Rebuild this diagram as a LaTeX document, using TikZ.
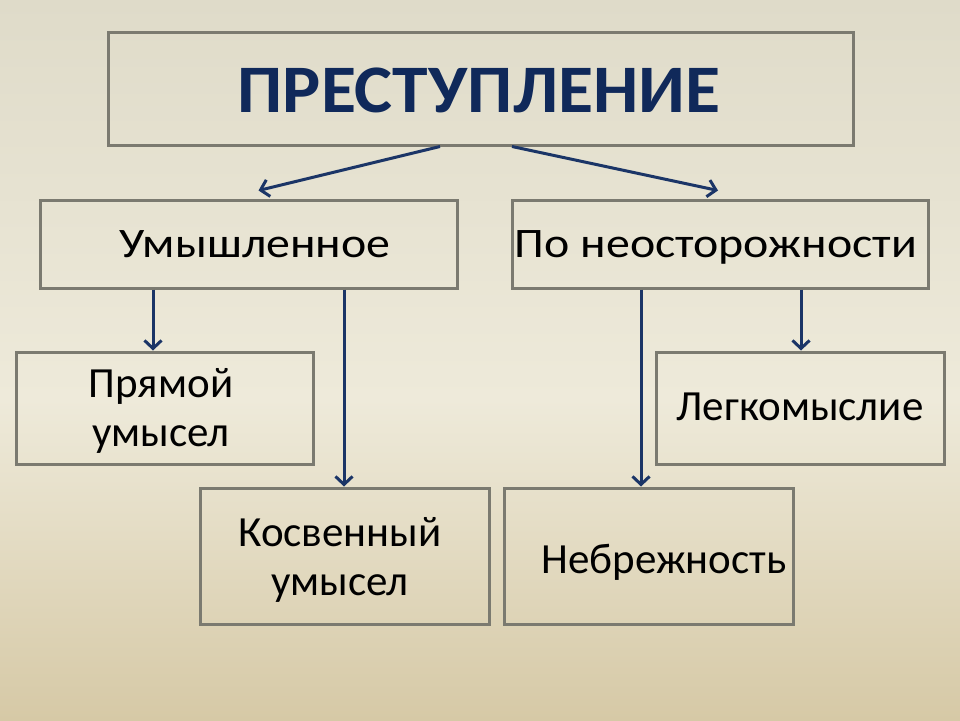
\documentclass[tikz,border=0pt]{standalone}
\usepackage{fontspec}
\setmainfont{Carlito}
\newfontfamily\widefont[FakeStretch=1.14]{Carlito}
\newfontfamily\titlefont[FakeStretch=1.055]{Carlito}
\usetikzlibrary{arrows.meta}
\definecolor{bgtop}{HTML}{DFDBC9}
\definecolor{bgmid}{HTML}{EEEADA}
\definecolor{bgbot}{HTML}{D6C9A6}
\definecolor{boxline}{HTML}{7B7A70}
\definecolor{navy}{HTML}{10295A}
\definecolor{arrowc}{HTML}{1B3567}
\begin{document}
\begin{tikzpicture}[x=1pt,y=-1pt,
  box/.style={draw=boxline,line width=3pt,inner sep=0pt},
  conn/.style={draw=arrowc,line width=3pt,-{Straight Barb[length=8pt,width=17pt]}},
  lbl/.style={font=\widefont\fontsize{42}{49}\selectfont,align=center,inner sep=0pt,text=black},
  sublbl/.style={font=\fontsize{43}{49}\selectfont,align=center,inner sep=0pt,text=black}]
\shade[top color=bgtop,bottom color=bgmid] (0,0) rectangle (960,400);
\shade[top color=bgmid,bottom color=bgbot] (0,399) rectangle (960,720);
\useasboundingbox (0,0) rectangle (960,720);

% boxes
\node[box,minimum width=745pt,minimum height=113pt] (top) at (480.5,88.5) {};
\node[box,minimum width=417pt,minimum height=88pt] (um) at (248.5,244) {};
\node[box,minimum width=416pt,minimum height=88pt] (ne) at (720,244) {};
\node[box,minimum width=297pt,minimum height=112pt] (pr) at (164.5,408) {};
\node[box,minimum width=289pt,minimum height=136pt] (ko) at (344.5,556) {};
\node[box,minimum width=288pt,minimum height=112pt] (le) at (800,408) {};
\node[box,minimum width=289pt,minimum height=136pt] (nb) at (648.5,556) {};

% texts
\node[inner sep=0pt,anchor=base,text=navy,font=\titlefont\fontsize{68}{80}\selectfont\bfseries] (ttop) at (479,112) {ПРЕСТУПЛЕНИЕ};
\node[lbl,anchor=base] (tum) at (255,257) {Умышленное};
\node[lbl,anchor=base] (tne) at (716,257) {По неосторожности};
\node[sublbl] (tpr) at (161,411) {Прямой\\умысел};
\node[sublbl] (tko) at (340,560) {Косвенный\\умысел};
\node[sublbl,anchor=base] (tle) at (800,420) {Легкомыслие};
\node[sublbl,anchor=base] (tnb) at (664,573) {Небрежность};

% connectors
\coordinate (xa) at (153,0);
\coordinate (xb) at (344,0);
\coordinate (xc) at (641,0);
\coordinate (xd) at (801,0);
\draw[conn] ([xshift=-40.5pt]top.south) -- ([xshift=10pt,yshift=8pt]um.north);
\draw[conn] ([xshift=31.5pt]top.south) -- ([xshift=-2pt,yshift=8pt]ne.north);
\draw[conn] (um.south -| xa) -- (pr.north -| xa);
\draw[conn] (um.south -| xb) -- (ko.north -| xb);
\draw[conn] (ne.south -| xc) -- (nb.north -| xc);
\draw[conn] (ne.south -| xd) -- (le.north -| xd);
\end{tikzpicture}
\end{document}
